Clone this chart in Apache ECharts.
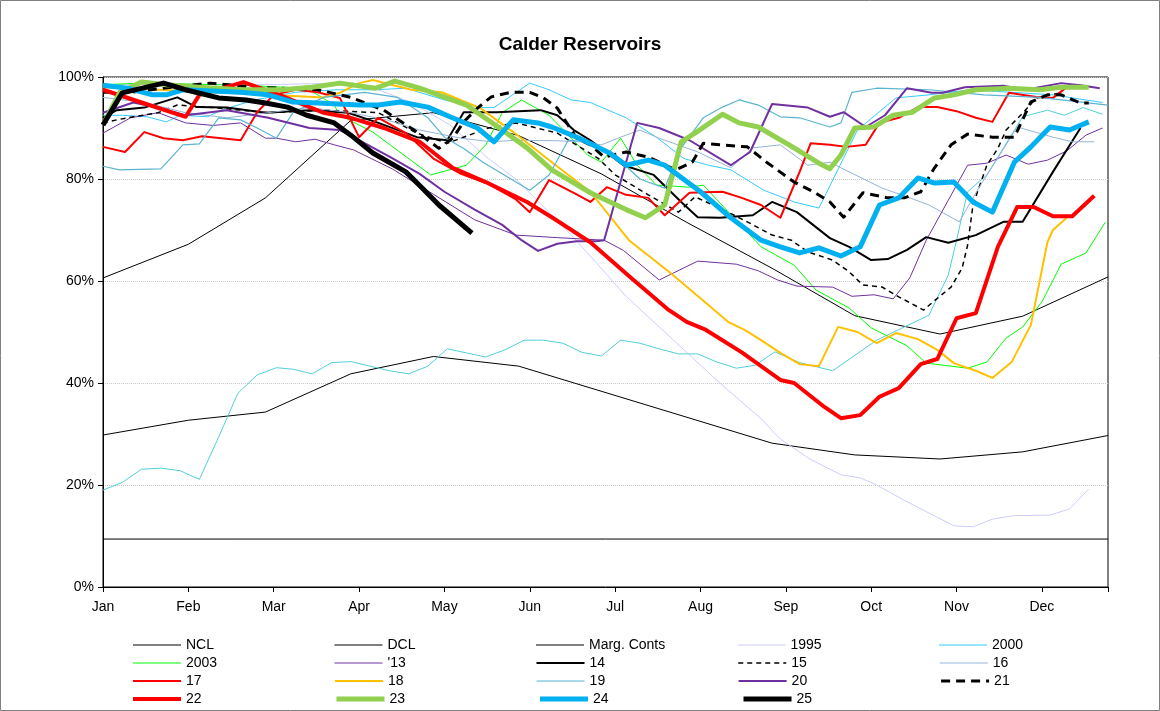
<!DOCTYPE html>
<html>
<head>
<meta charset="utf-8">
<script src="https://cdn.jsdelivr.net/npm/echarts@6/dist/echarts.min.js"></script>
<style>
  html, body { margin: 0; padding: 0; background: #fff; }
  #chart { width: 1160px; height: 711px; }
</style>
</head>
<body>
<div id="chart"></div>
<script>
// x = day of year (0..365), y = % full
const months = ['Jan', 'Feb', 'Mar', 'Apr', 'May', 'Jun', 'Jul', 'Aug', 'Sep', 'Oct', 'Nov', 'Dec']

const ncl = [[0,60.6],[31,67.2],[59,76.3],[90,91.5],[120,93],[151,88.5],[181,81],[212,71.5],[243,62.5],[273,53.2],[304,49.6],[334,53.1],[365,60.8]]
const dcl = [[0,29.8],[31,32.7],[59,34.3],[90,41.8],[120,45.2],[151,43.3],[243,28.2],[273,25.9],[304,25.1],[334,26.5],[365,29.7]]
const marg = [[0,9.4],[365,9.4]]
const y1995 = [[0,98.5],[31,98.6],[59,98.5],[87,98.8],[100,97.5],[112,95],[126,90.6],[140,84],[150,80],[171,68.5],[190,57],[206,49],[224,40],[239,33],[246,29],[257,25],[268,22],[275,21.4],[281,20],[291,17],[300,14.5],[309,12],[316,11.8],[323,13.3],[331,14],[344,14.1],[351,15.3],[358,19.2]]
const y1996 = [[0,19],[7,20.5],[14,23.1],[21,23.3],[28,22.8],[35,21.1],[42,29.4],[49,38],[56,41.6],[63,43],[69,42.7],[76,41.8],[83,44],[90,44.2],[97,43.3],[104,42.4],[111,41.8],[118,43.3],[125,46.7],[132,45.9],[139,45.1],[146,46.5],[153,48.4],[160,48.4],[167,47.8],[174,46],[181,45.3],[188,48.4],[195,47.8],[202,46.7],[209,45.7],[216,45.7],[223,44.1],[230,42.9],[237,43.5],[244,46.1],[253,44],[265,42.4],[281,48.4],[300,53.3],[307,61.2],[310,68],[314,77.5],[321,80.8],[334,92.2],[343,93.5],[349,92.5],[356,94],[363,92.7]]
const y2000 = [[0,92.5],[7,92.5],[16,92.2],[23,91.2],[28,92.5],[38,92.2],[43,93.5],[55,95.5],[70,97],[85,97.5],[99,97.5],[110,97.8],[124,95.5],[138,94],[142,94],[155,98.8],[162,97.5],[170,95.5],[177,95],[190,92],[201,88.2],[211,84],[220,82.7],[228,81.8],[240,77.8],[251,75.5],[260,74.3],[274,89.6],[288,95.9],[300,96.5],[315,97.5],[330,97],[345,96.5],[363,95]]
const y2003 = [[0,98.5],[15,98.8],[50,98.4],[74,97.8],[84,94.5],[86,92.5],[98,89.2],[119,80.8],[132,82.7],[139,86.7],[145,93],[152,95.5],[162,92.5],[176,84.7],[181,83.3],[188,88],[194,82.7],[201,78.8],[213,78.4],[218,78.8],[239,66.7],[251,63.1],[259,58.2],[271,54.7],[279,50.8],[292,47.3],[299,43.9],[314,42.9],[321,44.1],[328,48.8],[334,51],[341,55.9],[348,63.3],[357,65.5],[364,71.5]]
const y2013 = [[0,89],[10,92],[20,93],[30,91],[40,90.5],[50,91],[59,88],[63,88],[70,87.3],[77,87.8],[84,86.7],[91,85.7],[105,82],[120,77],[135,72],[150,69],[165,68.5],[182,68],[189,66],[202,60.2],[216,63.9],[230,63.3],[238,62],[245,60.2],[252,59],[265,58.8],[272,57],[280,57.3],[287,56.5],[293,60.6],[299,68],[314,82.7],[321,83.1],[328,84.7],[336,82.9],[343,83.7],[350,85.5],[357,88.6],[363,90]]
const y2014 = [[0,92],[5,93.5],[15,94],[27,96],[34,94.1],[45,94],[59,93],[75,93.5],[89,93],[100,91],[114,88.2],[125,87.6],[131,93.1],[143,93.1],[159,93.5],[165,92.5],[171,89.6],[177,87.6],[189,82.7],[200,80.8],[210,75.5],[216,72.5],[224,72.4],[236,72.9],[243,75.5],[252,73.5],[264,68.4],[271,66.7],[279,64.1],[285,64.3],[292,66.1],[299,68.6],[307,67.5],[317,69],[327,71.6],[334,71.6],[345,81.4],[355,90]]
const y2015 = [[0,91],[5,91.6],[11,92.2],[20,93],[27,94.5],[40,94],[60,93],[80,93.5],[100,93],[114,89],[125,87],[140,90],[150,91],[165,89],[180,84],[186,80.8],[198,76.9],[209,73.5],[215,76.5],[224,74.3],[234,71.6],[243,69],[250,68],[256,65.7],[265,64.1],[271,61.8],[276,59.2],[283,58.8],[289,56.9],[298,54.3],[301,55.7],[308,58.8],[312,62.5],[314,67],[316,75],[321,82.7],[325,86],[328,89.6],[334,92.9],[339,95.9],[348,96.9]]
const y2016 = [[0,96],[15,95],[30,93],[45,92],[60,93],[75,94],[90,93],[103,91.6],[115,89.6],[130,88],[141,87.3],[150,87.6],[165,87.5],[173,87.3],[181,86.7],[188,88.2],[195,89.6],[202,88],[216,85.3],[228,82.2],[236,86.1],[246,86.7],[256,82.7],[264,83.3],[268,82.2],[283,78.2],[292,76.5],[300,74.9],[311,71.6],[318,78.2],[325,84.1],[332,90.2],[345,88.2],[352,87.3],[360,87.3]]
const y2017 = [[0,86.3],[8,85.3],[15,89.2],[22,88],[29,87.6],[36,88.4],[43,88],[50,87.6],[56,93.1],[62,96.5],[70,97.5],[78,97],[86,95.9],[93,88.2],[100,92],[110,89],[120,84],[130,81],[140,79],[150,76],[155,73.5],[162,79.8],[172,77],[177,75.5],[183,78.4],[190,76.9],[198,76.3],[204,72.9],[213,77.3],[225,77.5],[232,76.3],[239,74.9],[246,72.4],[253,81.4],[257,87],[264,86.7],[270,86.3],[277,86.7],[282,91],[289,92],[296,94.1],[303,94.1],[310,93.3],[317,92],[323,91.2],[329,96.9],[339,96.1],[345,95.9],[351,98.4]]
const y2018 = [[0,98],[20,97.5],[40,97],[60,96.5],[80,96],[86,96.9],[93,98.8],[98,99.4],[112,97.5],[123,97],[137,93.9],[149,89.2],[163,83.3],[177,77.5],[191,68],[206,61.6],[219,55.7],[227,52],[233,50.4],[239,48.4],[246,45.9],[253,43.7],[260,43.3],[267,51],[274,50],[281,47.8],[288,49.8],[296,48.6],[303,46.5],[309,43.9],[317,42.4],[323,41],[330,44.1],[337,51.4],[343,67.6],[345,70],[350,72.4]]
const y2019 = [[0,82.5],[6,81.8],[21,82],[29,86.7],[35,86.9],[42,92],[50,91.6],[56,90],[63,88],[69,93],[80,96],[95,97],[107,96],[118,92],[124,88.2],[131,86],[138,83.3],[155,77.8],[162,80.8],[169,87.6],[177,87.3],[185,85],[195,80],[204,78.2],[210,86.1],[218,92],[225,94.1],[231,95.5],[238,94.5],[246,92.2],[253,92],[264,90.2],[268,91],[272,97],[281,97.8],[300,97.5],[320,96.5],[340,96],[365,94.5]]
const y2020 = [[0,93],[11,95],[20,94],[30,92.5],[45,93.5],[60,92],[75,90],[86,89.6],[93,87.6],[105,84.1],[115,81],[124,77.5],[135,74],[145,71],[152,68],[158,65.9],[165,67.3],[172,67.8],[179,67.8],[182,68],[194,91],[202,90],[213,87.6],[228,82.7],[235,85.3],[243,94.7],[256,94],[264,92.2],[269,93.1],[277,90.2],[284,92.5],[292,97.8],[301,96.9],[305,96.9],[313,98],[327,98.3],[335,97.5],[348,98.8],[355,98.4],[362,97.8]]
const y2021 = [[0,97],[10,97],[25,98],[39,98.8],[55,98],[78,97.5],[90,96],[102,93.5],[114,89.2],[122,86],[127,88],[131,91.2],[136,93.9],[141,96.1],[148,97],[155,97],[160,95.9],[165,93.9],[172,88],[177,86.7],[182,84.3],[190,85.3],[198,84.3],[208,81.8],[214,83.3],[218,87],[224,86.7],[234,86.3],[241,83.3],[251,79.4],[258,77.5],[264,75.5],[269,72.5],[276,77.3],[285,76.3],[291,76.3],[297,77.5],[302,82.2],[308,86.7],[314,88.8],[323,88.2],[331,88.2],[337,95.1],[343,96.5],[348,96.5],[355,94.9],[358,94.9]]
const y2022 = [[0,97.5],[14,95],[30,92.2],[35,96.5],[51,99],[64,96.5],[80,93],[90,92],[102,90],[115,87.3],[127,82.2],[139,79.4],[154,75.5],[163,72.5],[177,67.6],[191,61],[205,54.5],[212,52],[219,50.4],[232,46],[246,40.6],[251,40],[262,35.3],[268,33.1],[275,33.7],[282,37.3],[289,39],[297,43.7],[303,44.7],[310,52.7],[317,53.7],[325,66.7],[332,74.5],[338,74.5],[345,72.7],[352,72.7],[360,76.7]]
const y2023 = [[0,90.6],[6,96.9],[14,99],[23,98.5],[35,98],[50,97.5],[65,97.5],[76,98],[86,98.8],[99,97.8],[106,99.2],[115,97.8],[132,94.5],[144,90],[154,86.1],[163,81.8],[177,77.3],[190,74],[197,72.4],[204,74.9],[210,87.3],[215,89],[225,92.7],[231,91],[238,90.2],[251,86.1],[260,83.1],[264,82],[268,84.7],[273,90],[280,90.2],[287,92.5],[294,93.1],[302,95.9],[309,96.5],[317,97.5],[329,97.8],[340,97.5],[348,98],[358,98]]
const y2024 = [[0,98.4],[9,97.8],[18,96.5],[23,96.5],[29,97.5],[50,97],[60,96.5],[69,95.1],[78,94.9],[93,94.5],[100,94.5],[108,95.1],[118,94.1],[126,92.2],[136,90],[142,87.3],[149,91.6],[158,91],[163,90.2],[173,88],[184,85.1],[190,82.7],[198,83.7],[204,82.7],[217,77.5],[228,72.4],[239,68],[246,66.7],[253,65.5],[260,66.5],[268,64.9],[275,66.7],[282,74.9],[289,76.3],[296,80.2],[302,79.2],[309,79.4],[316,75.5],[323,73.5],[331,83.3],[337,86.3],[344,90.2],[351,89.6],[358,91.2]]
const y2025 = [[0,90.6],[7,96.9],[22,98.8],[30,97.5],[42,95.9],[52,95.5],[59,94.9],[67,94.1],[74,92.5],[84,91],[90,88.6],[98,85.1],[110,81.4],[116,78.2],[122,74.9],[134,69.4]]

const legendNames = ['NCL', 'DCL', 'Marg. Conts', '1995', '2000', '2003', "'13", '14', '15', '16', '17', '18', '19', '20', '21', '22', '23', '24', '25']

// name, data, colour, width, dash
const lines = [
  ['NCL', ncl, '#000000', 1, null],
  ['DCL', dcl, '#000000', 1, null],
  ['Marg. Conts', marg, '#000000', 1, null],
  ['1995', y1995, '#ccccff', 1, null],
  ['96', y1996, '#4fd0d8', 1, null],
  ['2000', y2000, '#33ccff', 1, null],
  ['2003', y2003, '#00ff00', 1, null],
  ["'13", y2013, '#7030a0', 1, null],
  ['14', y2014, '#000000', 2, null],
  ['15', y2015, '#000000', 1.5, [5, 4]],
  ['16', y2016, '#95b3d7', 1, null],
  ['17', y2017, '#ff0000', 2, null],
  ['18', y2018, '#ffc000', 2, null],
  ['19', y2019, '#5ab4cf', 1.2, null],
  ['20', y2020, '#7030a0', 2, null],
  ['21', y2021, '#000000', 3, [9, 6]],
  ['22', y2022, '#ff0000', 4, null],
  ['23', y2023, '#92d050', 5, null],
  ['24', y2024, '#00b0f0', 5, null],
  ['25', y2025, '#000000', 5, null]
]

const chart = echarts.init(document.getElementById('chart'))

const font = 'Liberation Sans, Arial, sans-serif'

chart.setOption({
  animation: false,
  textStyle: { fontFamily: font },
  title: {
    text: 'Calder Reservoirs',
    left: 'center',
    top: 30,
    textStyle: { fontFamily: font, fontSize: 19, fontWeight: 'bold', color: '#000' }
  },
  graphic: [{
    type: 'rect',
    shape: { x: 0.5, y: 0.5, width: 1159, height: 710 },
    style: { fill: 'none', stroke: '#808080', lineWidth: 1 },
    silent: true
  }],
  grid: {
    left: 103, right: 52, top: 77, bottom: 124,
    show: true, borderColor: '#000', borderWidth: 1
  },
  legend: {
    left: 131,
    top: 636,
    padding: 0,
    width: 1028,
    itemWidth: 48,
    itemHeight: 14,
    itemGap: 0,
    selectedMode: false,
    itemStyle: { opacity: 0 },
    textStyle: { fontFamily: font, fontSize: 14, color: '#000', width: 148, lineHeight: 18 },
    data: legendNames.map(n => {
      const l = lines.find(s => s[0] === n)
      return {
        name: n,
        itemStyle: { opacity: 0 },
        lineStyle: { width: l[3], type: l[4] || 'solid', color: l[2], opacity: 1 }
      }
    })
  },
  xAxis: {
    type: 'value',
    min: 0,
    max: 365,
    interval: 31,
    axisLine: { lineStyle: { color: '#000', width: 1 } },
    axisTick: { show: true, inside: false, length: 5, lineStyle: { color: '#000' } },
    axisLabel: {
      margin: 13,
      fontSize: 14,
      color: '#000',
      fontFamily: font,
      formatter: v => (v % 31 === 0 && v / 31 < 12) ? months[v / 31] : ''
    },
    splitLine: { show: false }
  },
  yAxis: {
    type: 'value',
    min: 0,
    max: 100,
    interval: 20,
    axisLine: { show: true, lineStyle: { color: '#000', width: 1 } },
    axisTick: { show: true, inside: false, length: 5, lineStyle: { color: '#000' } },
    axisLabel: { margin: 9, fontSize: 14, color: '#000', fontFamily: font, formatter: '{value}%' },
    splitLine: { show: true, lineStyle: { color: '#c8c8c8', type: 'dotted', width: 1 } }
  },
  series: lines.map(([name, data, color, width, dash]) => ({
    name,
    type: 'line',
    data,
    symbol: 'none',
    smooth: false,
    lineStyle: { color, width, type: dash || 'solid', cap: 'butt', join: 'round' },
    itemStyle: { color },
    emphasis: { disabled: true }
  }))
})
</script>
</body>
</html>
